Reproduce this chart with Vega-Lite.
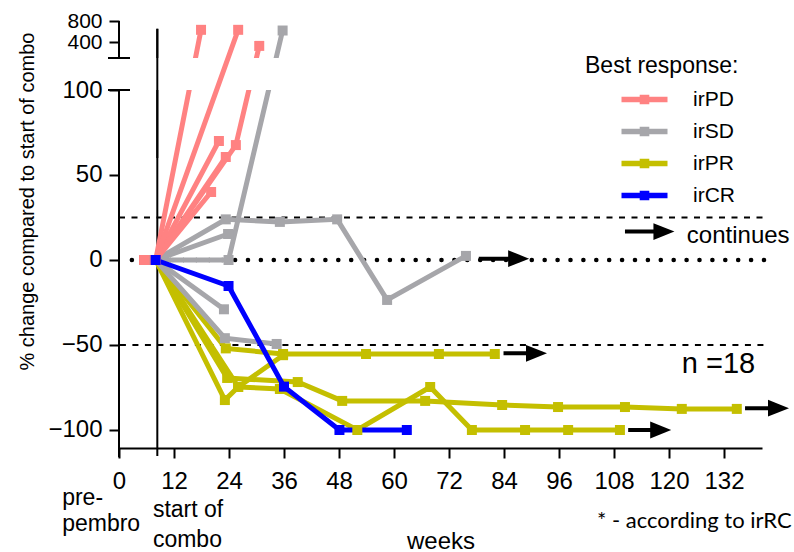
{
 "$schema": "https://vega.github.io/schema/vega-lite/v6.json",
 "width": 643, "height": 427,
 "autosize": {"type": "none"},
 "padding": {"left": 119, "top": 21, "right": 32, "bottom": 104},
 "background": "white",
 "config": {
  "view": {"stroke": null},
  "font": "Liberation Sans",
  "axis": {"grid": false, "domainColor": "black", "domainWidth": 2, "tickColor": "black", "tickWidth": 2, "tickSize": 10,
   "labelFont": "Liberation Sans", "labelFontSize": 24, "labelColor": "black", "titleFont": "Liberation Sans",
   "titleFontWeight": "normal", "titleColor": "black", "labelFlush": false, "labelOverlap": false, "labelBound": false},
  "text": {"font": "Liberation Sans", "color": "black"}
 },
 "datasets": {
  "series": [
   {"s": "Y1", "r": "irPR", "w": 5.7, "v": 0}, {"s": "Y1", "r": "irPR", "w": 8, "v": 0}, {"s": "Y1", "r": "irPR", "w": 23.3, "v": -52}, {"s": "Y1", "r": "irPR", "w": 35.8, "v": -55.3}, {"s": "Y1", "r": "irPR", "w": 53.9, "v": -55.3}, {"s": "Y1", "r": "irPR", "w": 69.8, "v": -55.3}, {"s": "Y1", "r": "irPR", "w": 82, "v": -55.3},
   {"s": "Y2", "r": "irPR", "w": 5.7, "v": 0}, {"s": "Y2", "r": "irPR", "w": 8, "v": 0}, {"s": "Y2", "r": "irPR", "w": 23.6, "v": -69.4}, {"s": "Y2", "r": "irPR", "w": 39, "v": -71.8}, {"s": "Y2", "r": "irPR", "w": 48.7, "v": -82.9}, {"s": "Y2", "r": "irPR", "w": 66.8, "v": -82.9}, {"s": "Y2", "r": "irPR", "w": 83.6, "v": -85.3}, {"s": "Y2", "r": "irPR", "w": 95.8, "v": -86.5}, {"s": "Y2", "r": "irPR", "w": 110.4, "v": -86.5}, {"s": "Y2", "r": "irPR", "w": 122.8, "v": -87.6}, {"s": "Y2", "r": "irPR", "w": 134.8, "v": -87.6},
   {"s": "Y3", "r": "irPR", "w": 5.7, "v": 0}, {"s": "Y3", "r": "irPR", "w": 8, "v": 0}, {"s": "Y3", "r": "irPR", "w": 23.1, "v": -82.4}, {"s": "Y3", "r": "irPR", "w": 26, "v": -74.7}, {"s": "Y3", "r": "irPR", "w": 35.1, "v": -75.9}, {"s": "Y3", "r": "irPR", "w": 52, "v": -100}, {"s": "Y3", "r": "irPR", "w": 67.9, "v": -74.7}, {"s": "Y3", "r": "irPR", "w": 77, "v": -100}, {"s": "Y3", "r": "irPR", "w": 88.6, "v": -100}, {"s": "Y3", "r": "irPR", "w": 98, "v": -100}, {"s": "Y3", "r": "irPR", "w": 109.3, "v": -100},
   {"s": "Y4", "r": "irPR", "w": 5.7, "v": 0}, {"s": "Y4", "r": "irPR", "w": 8, "v": 0}, {"s": "Y4", "r": "irPR", "w": 26, "v": -74.7}, {"s": "Y4", "r": "irPR", "w": 35.8, "v": -56},
   {"s": "G1", "r": "irSD", "w": 6.3, "v": 0}, {"s": "G1", "r": "irSD", "w": 8, "v": 0}, {"s": "G1", "r": "irSD", "w": 23.3, "v": 23.9}, {"s": "G1", "r": "irSD", "w": 35.1, "v": 22.4}, {"s": "G1", "r": "irSD", "w": 47.6, "v": 23.9}, {"s": "G1", "r": "irSD", "w": 58.5, "v": -23.5}, {"s": "G1", "r": "irSD", "w": 75.7, "v": 2.4},
   {"s": "G2", "r": "irSD", "w": 6.3, "v": 0}, {"s": "G2", "r": "irSD", "w": 8, "v": 0}, {"s": "G2", "r": "irSD", "w": 23.9, "v": 0}, {"s": "G2", "r": "irSD", "w": 35.7, "v": 620},
   {"s": "G3", "r": "irSD", "w": 6.3, "v": 0}, {"s": "G3", "r": "irSD", "w": 8, "v": 0}, {"s": "G3", "r": "irSD", "w": 23.8, "v": 15.3},
   {"s": "G4", "r": "irSD", "w": 6.3, "v": 0}, {"s": "G4", "r": "irSD", "w": 8, "v": 0}, {"s": "G4", "r": "irSD", "w": 22.9, "v": -29},
   {"s": "G5", "r": "irSD", "w": 6.3, "v": 0}, {"s": "G5", "r": "irSD", "w": 8, "v": 0}, {"s": "G5", "r": "irSD", "w": 23.1, "v": -46}, {"s": "G5", "r": "irSD", "w": 34.4, "v": -49.4},
   {"s": "P1", "r": "irPD", "w": 5.5, "v": 0}, {"s": "P1", "r": "irPD", "w": 8, "v": 0}, {"s": "P1", "r": "irPD", "w": 17.9, "v": 633},
   {"s": "P2", "r": "irPD", "w": 5.5, "v": 0}, {"s": "P2", "r": "irPD", "w": 8, "v": 0}, {"s": "P2", "r": "irPD", "w": 26, "v": 633},
   {"s": "P3", "r": "irPD", "w": 5.5, "v": 0}, {"s": "P3", "r": "irPD", "w": 8, "v": 0}, {"s": "P3", "r": "irPD", "w": 25.5, "v": 67.6}, {"s": "P3", "r": "irPD", "w": 30.6, "v": 329},
   {"s": "P4", "r": "irPD", "w": 5.5, "v": 0}, {"s": "P4", "r": "irPD", "w": 8, "v": 0}, {"s": "P4", "r": "irPD", "w": 21.8, "v": 70},
   {"s": "P5", "r": "irPD", "w": 5.5, "v": 0}, {"s": "P5", "r": "irPD", "w": 8, "v": 0}, {"s": "P5", "r": "irPD", "w": 23.3, "v": 60.6},
   {"s": "P6", "r": "irPD", "w": 5.5, "v": 0}, {"s": "P6", "r": "irPD", "w": 8, "v": 0}, {"s": "P6", "r": "irPD", "w": 20.1, "v": 40},
   {"s": "B1", "r": "irCR", "w": 8, "v": 0}, {"s": "B1", "r": "irCR", "w": 23.9, "v": -15.3}, {"s": "B1", "r": "irCR", "w": 36, "v": -74.5}, {"s": "B1", "r": "irCR", "w": 48.1, "v": -100}, {"s": "B1", "r": "irCR", "w": 62.8, "v": -100}
  ],
  "arrows": [
   {"a": 78.5, "b": 87.2, "v": 0.8},
   {"a": 83.9, "b": 91.1, "v": -54.9},
   {"a": 111.1, "b": 118.2, "v": -100},
   {"a": 136.6, "b": 143.9, "v": -87.2},
   {"a": 110.4, "b": 118.9, "v": 16.7}
  ]
 },
 "data": {"name": "series"},
 "layer": [
  {"data": {"values": [{}]}, "mark": {"type": "rule", "strokeDash": [6, 6.5], "strokeWidth": 2, "color": "black"},
   "encoding": {"x": {"datum": 0}, "x2": {"datum": 141}, "y": {"datum": 25}}},
  {"data": {"values": [{}]}, "mark": {"type": "rule", "strokeDash": [6, 6.5], "strokeWidth": 2, "color": "black"},
   "encoding": {"x": {"datum": 0.2}, "x2": {"datum": 141}, "y": {"datum": -50}}},
  {"data": {"values": [{}]}, "mark": {"type": "rule", "strokeDash": [0.1, 12.8], "strokeCap": "round", "strokeWidth": 4.5, "color": "black"},
   "encoding": {"x": {"datum": 2.8}, "x2": {"datum": 141}, "y": {"datum": 0}}},
  {"data": {"values": [{}]}, "mark": {"type": "rule", "strokeWidth": 2, "color": "black"},
   "encoding": {"x": {"datum": 8.36}, "y": {"datum": -115.3}, "y2": {"datum": 652}}},
  {"transform": [{"filter": "datum.s != 'P2'"}],
   "mark": {"type": "line", "strokeWidth": 5, "clip": false},
   "encoding": {
    "x": {"field": "w", "type": "quantitative", "scale": {"domain": [0, 140.3], "nice": false, "zero": false},
     "axis": {"values": [0, 12, 24, 36, 48, 60, 72, 84, 96, 108, 120, 132], "title": "weeks", "titleFontSize": 24,
      "titleX": 321.5, "titleY": 100, "titleBaseline": "alphabetic", "titleAlign": "center", "labelPadding": 11}},
    "y": {"field": "v", "type": "quantitative",
     "scale": {"domain": [-110.6, 100, 100.0001, 800], "range": [427, 69, 37, 0], "nice": false, "zero": false},
     "axis": {"values": [-100, -50, 0, 50, 100, 400, 800], "domain": false, "title": "% change compared to start of combo",
      "titleFontSize": 20, "titleX": -92, "titleY": 180, "titleAlign": "center", "titleBaseline": "middle", "titleAngle": -90, "labelPadding": 7,
      "labelFontSize": {"condition": {"test": "datum.value >= 400", "value": 21}, "value": 24}}},
    "color": {"field": "r", "type": "nominal",
     "scale": {"domain": ["irPD", "irSD", "irPR", "irCR"], "range": ["#ff8282", "#a6a6aa", "#c4bf00", "#0000ff"]},
     "legend": {"title": "Best response:", "orient": "none", "legendX": 466, "legendY": 34,
      "titleFontSize": 23, "titleFont": "Liberation Sans", "titleFontWeight": "normal", "titleColor": "black", "titlePadding": 11,
      "labelFontSize": 21, "labelFont": "Liberation Sans", "labelColor": "black",
      "symbolType": "M-2.3,-0.28H2.3V0.28H-2.3Z M-0.48,-0.48H0.48V0.48H-0.48Z",
      "symbolSize": 400, "symbolOffset": 49, "labelOffset": 38, "symbolStrokeWidth": 0, "rowPadding": 10,
      "encode": {"symbols": {"update": {"fill": {"scale": "color", "field": "value"}, "opacity": {"value": 1}, "fillOpacity": {"value": 1}}}}}},
    "detail": {"field": "s"}
   }},
  {"data": {"values": [{}]}, "mark": {"type": "rect", "fill": "white"},
   "encoding": {"x": {"datum": 0.3}, "x2": {"datum": 141}, "y": {"datum": 100}, "y2": {"datum": 100.0001}}},
  {"data": {"values": [{}]}, "mark": {"type": "rule", "strokeWidth": 2, "color": "black"},
   "encoding": {"x": {"datum": 8.36}, "y": {"datum": 60}, "y2": {"datum": 652}}},
  {"transform": [{"filter": "datum.s == 'P2'"}],
   "mark": {"type": "line", "strokeWidth": 5, "clip": false},
   "encoding": {"x": {"field": "w", "type": "quantitative"}, "y": {"field": "v", "type": "quantitative"},
    "color": {"field": "r", "type": "nominal"}, "detail": {"field": "s"}}},
  {"mark": {"type": "point", "shape": "square", "filled": true, "size": 100, "opacity": 1},
   "encoding": {"x": {"field": "w", "type": "quantitative"}, "y": {"field": "v", "type": "quantitative"},
    "color": {"field": "r", "type": "nominal"}}},
  {"data": {"name": "arrows"}, "mark": {"type": "rule", "strokeWidth": 4, "color": "black"},
   "encoding": {"x": {"field": "a", "type": "quantitative"}, "x2": {"field": "b"}, "y": {"field": "v", "type": "quantitative"}}},
  {"data": {"name": "arrows"}, "mark": {"type": "point", "shape": "M-1,-0.8L1,0L-1,0.8Z", "filled": true, "size": 441, "color": "black", "opacity": 1, "clip": false},
   "encoding": {"x": {"field": "b", "type": "quantitative"}, "y": {"field": "v", "type": "quantitative"}}},
  {"data": {"values": [{}]}, "mark": {"type": "rule", "strokeWidth": 2, "color": "black"},
   "encoding": {"x": {"datum": 0}, "y": {"datum": -116}, "y2": {"datum": 100}}},
  {"data": {"values": [{}]}, "mark": {"type": "rule", "strokeWidth": 2, "color": "black"},
   "encoding": {"x": {"datum": 0}, "y": {"datum": 100.0001}, "y2": {"datum": 800}}},
  {"data": {"values": [{}]}, "mark": {"type": "rule", "strokeWidth": 2, "color": "black"},
   "encoding": {"x": {"datum": -2.4}, "x2": {"datum": 2.4}, "y": {"datum": 100}}},
  {"data": {"values": [{}]}, "mark": {"type": "rule", "strokeWidth": 2, "color": "black"},
   "encoding": {"x": {"datum": -2.4}, "x2": {"datum": 2.4}, "y": {"datum": 100.0001}}},
  {"data": {"values": [{}]}, "mark": {"type": "text", "align": "left", "baseline": "alphabetic", "fontSize": 23, "lineBreak": "\n", "lineHeight": 26, "text": "pre-\npembro"},
   "encoding": {"x": {"datum": -12.4}, "y": {"datum": -144.1}}},
  {"data": {"values": [{}]}, "mark": {"type": "text", "align": "left", "baseline": "alphabetic", "fontSize": 23, "lineBreak": "\n", "lineHeight": 30, "text": "start of\ncombo"},
   "encoding": {"x": {"datum": 7.4}, "y": {"datum": -151.2}}},
  {"data": {"values": [{}]}, "mark": {"type": "text", "align": "left", "baseline": "alphabetic", "fontSize": 22, "font": "Lato", "text": "* - according to irRC"},
   "encoding": {"x": {"datum": 104.3}, "y": {"datum": -157.6}}},
  {"data": {"values": [{}]}, "mark": {"type": "text", "align": "left", "baseline": "alphabetic", "fontSize": 29, "text": "n =18"},
   "encoding": {"x": {"datum": 122.8}, "y": {"datum": -66.3}}},
  {"data": {"values": [{}]}, "mark": {"type": "text", "align": "left", "baseline": "alphabetic", "fontSize": 24, "text": "continues"},
   "encoding": {"x": {"datum": 123.9}, "y": {"datum": 10}}}
 ]
}
